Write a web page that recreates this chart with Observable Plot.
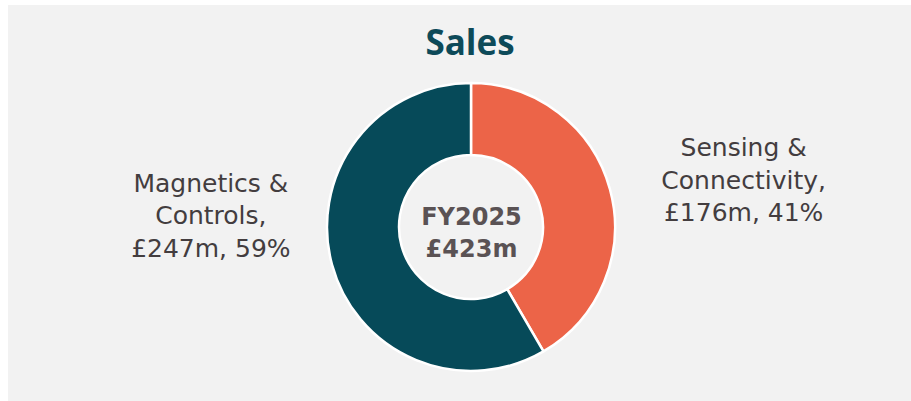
<!DOCTYPE html>
<html>
<head>
<meta charset="utf-8">
<script src="https://cdn.jsdelivr.net/npm/d3@7"></script>
<script src="https://cdn.jsdelivr.net/npm/@observablehq/plot@0.6"></script>
<style>
  html, body { margin: 0; padding: 0; background: #ffffff; }
  #wrap { position: relative; width: 911px; height: 401px; overflow: hidden; background: #ffffff; }
  #panel { position: absolute; left: 8px; top: 5px; right: 0; bottom: 0; background: #f2f2f2; }
  #title { position: absolute; left: 0; width: 940px; top: 18px; text-align: center;
           font-family: "Open Sans", sans-serif; font-weight: 700; font-size: 35px; color: #0d4a59; line-height: 48px; }
  #chart { position: absolute; left: 0; top: 70px; }
</style>
</head>
<body>
<div id="wrap">
  <div id="panel"></div>
  <div id="title">Sales</div>
  <div id="chart"></div>
</div>
<script>
// ---- data ----
const categories = ["Sensing &\nConnectivity,", "Magnetics &\nControls,"];
const salesGBPm = [176, 247];
const sharePct = [41, 59];
const colors = ["#ec6448", "#064a59"];
const centerYear = "FY2025";

// ---- build ----
const total = d3.sum(salesGBPm);
const rows = categories.map((c, i) => ({category: c, value: salesGBPm[i], pct: sharePct[i], color: colors[i]}));
const arcs = d3.pie().sort(null).value(d => d.value)(rows);
arcs.forEach(a => { a.mid = (a.startAngle + a.endAngle) / 2; a.right = Math.sin(a.mid) > 0; });

const W = 911, H = 331, cx = 471, cy = 157, R = 144; // R px per unit radius
const inner = 0.5;

const donut = (index, scales) => {
  const x = scales.x, y = scales.y;
  const ox = x(0), oy = y(0), r = x(1) - x(0);
  const g = d3.create("svg:g").attr("transform", `translate(${ox},${oy})`);
  const arcGen = d3.arc().innerRadius(r * inner).outerRadius(r);
  g.selectAll("path").data(arcs).join("path")
    .attr("d", arcGen)
    .attr("fill", d => d.data.color)
    .attr("stroke", "#ffffff")
    .attr("stroke-width", 2.5)
    .attr("stroke-linejoin", "round");
  return g.node();
};

const labelData = arcs.map(a => ({
  text: `${a.data.category}\n£${a.data.value}m, ${a.data.pct}%`,
  x: a.right ? 1.89 : -1.81,
  y: a.right ? 0.34 : 0.095
}));

const plot = Plot.plot({
  width: W,
  height: H,
  margin: 0,
  style: {background: "transparent", overflow: "visible"},
  x: {domain: [-cx / R, (W - cx) / R], range: [0, W], axis: null},
  y: {domain: [-(H - cy) / R, cy / R], range: [H, 0], axis: null},
  marks: [
    donut,
    Plot.text(labelData, {
      x: "x", y: "y", text: "text",
      fontFamily: "DejaVu Sans, sans-serif", fontSize: 25, lineHeight: 1.3,
      fill: "#433d3f", textAnchor: "middle", lineAnchor: "middle"
    }),
    Plot.text([`${centerYear}\n£${total}m`], {
      x: () => 0, y: () => 0, text: d => d, dy: 3,
      fontFamily: "DejaVu Sans, sans-serif", fontWeight: "bold", fontSize: 24, lineHeight: 1.33,
      fill: "#5a5254", textAnchor: "middle", lineAnchor: "middle"
    })
  ]
});
document.getElementById("chart").appendChild(plot);
</script>
</body>
</html>
